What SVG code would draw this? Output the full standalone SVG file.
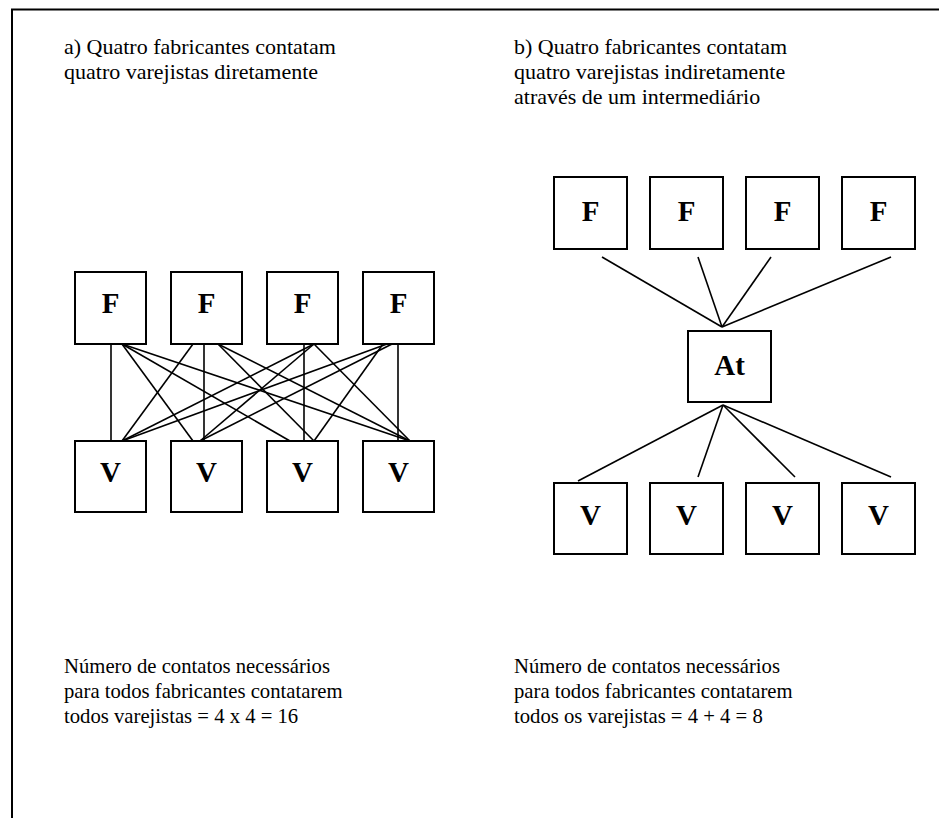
<svg xmlns="http://www.w3.org/2000/svg" width="939" height="818" viewBox="0 0 939 818">
<style>
.bx{fill:#fff;stroke:#000;stroke-width:2}
.lt{font-family:"Liberation Serif","Times New Roman",serif;font-weight:bold;font-size:29px;text-anchor:middle}
.tx{font-family:"Liberation Serif","Times New Roman",serif;font-size:22px}
.nt{font-family:"Liberation Serif","Times New Roman",serif;font-size:20.7px}
.cn line{stroke:#000;stroke-width:1.6}
</style>
<rect width="939" height="818" fill="#fff"/>
<path d="M12 818 V9.5 H939" fill="none" stroke="#000" stroke-width="2"/>
<g id="title-a" class="tx"><text x="64" y="54">a) Quatro fabricantes contatam</text><text x="64" y="79">quatro varejistas diretamente</text></g>
<g id="title-b" class="tx"><text x="514" y="54">b) Quatro fabricantes contatam</text><text x="514" y="79">quatro varejistas indiretamente</text><text x="514" y="104">através de um intermediário</text></g>
<g id="note-a" class="nt"><text x="64" y="673">Número de contatos necessários</text><text x="64" y="698">para todos fabricantes contatarem</text><text x="64" y="723">todos varejistas = 4 x 4 = 16</text></g>
<g id="note-b" class="nt"><text x="514" y="673">Número de contatos necessários</text><text x="514" y="698">para todos fabricantes contatarem</text><text x="514" y="723">todos os varejistas = 4 + 4 = 8</text></g>
<g id="connectors-a" class="cn">
<line x1="111" y1="344" x2="111" y2="441"/>
<line x1="204" y1="344" x2="204" y2="441"/>
<line x1="304" y1="344" x2="304" y2="441"/>
<line x1="398" y1="344" x2="398" y2="441"/>
<line x1="122" y1="344" x2="193" y2="441"/>
<line x1="122" y1="344" x2="290" y2="441"/>
<line x1="122" y1="344" x2="410" y2="441"/>
<line x1="193" y1="344" x2="122" y2="441"/>
<line x1="218" y1="344" x2="314" y2="441"/>
<line x1="218" y1="344" x2="410" y2="441"/>
<line x1="314" y1="344" x2="122" y2="441"/>
<line x1="314" y1="344" x2="200" y2="441"/>
<line x1="314" y1="344" x2="410" y2="441"/>
<line x1="387" y1="344" x2="122" y2="441"/>
<line x1="392" y1="344" x2="200" y2="441"/>
<line x1="383" y1="344" x2="314" y2="441"/>
</g>
<g id="connectors-b" class="cn">
<line x1="602" y1="257" x2="722" y2="327"/>
<line x1="698" y1="257" x2="722" y2="327"/>
<line x1="771" y1="257" x2="722" y2="327"/>
<line x1="891" y1="257" x2="722" y2="327"/>
<line x1="723" y1="405" x2="578" y2="481"/>
<line x1="723" y1="405" x2="698" y2="477"/>
<line x1="723" y1="405" x2="795" y2="477"/>
<line x1="723" y1="405" x2="891" y2="477"/>
</g>
<g id="a-F1"><rect class="bx" x="75" y="272" width="71" height="72"/><text class="lt" x="110.5" y="313">F</text></g>
<g id="a-F2"><rect class="bx" x="171" y="272" width="71" height="72"/><text class="lt" x="206.5" y="313">F</text></g>
<g id="a-F3"><rect class="bx" x="267" y="272" width="71" height="72"/><text class="lt" x="302.5" y="313">F</text></g>
<g id="a-F4"><rect class="bx" x="363" y="272" width="71" height="72"/><text class="lt" x="398.5" y="313">F</text></g>
<g id="a-V1"><rect class="bx" x="75" y="441" width="71" height="71"/><text class="lt" x="110.5" y="482">V</text></g>
<g id="a-V2"><rect class="bx" x="171" y="441" width="71" height="71"/><text class="lt" x="206.5" y="482">V</text></g>
<g id="a-V3"><rect class="bx" x="267" y="441" width="71" height="71"/><text class="lt" x="302.5" y="482">V</text></g>
<g id="a-V4"><rect class="bx" x="363" y="441" width="71" height="71"/><text class="lt" x="398.5" y="482">V</text></g>
<g id="b-F1"><rect class="bx" x="554" y="177" width="73" height="72"/><text class="lt" x="590.5" y="221">F</text></g>
<g id="b-F2"><rect class="bx" x="650" y="177" width="73" height="72"/><text class="lt" x="686.5" y="221">F</text></g>
<g id="b-F3"><rect class="bx" x="746" y="177" width="73" height="72"/><text class="lt" x="782.5" y="221">F</text></g>
<g id="b-F4"><rect class="bx" x="842" y="177" width="73" height="72"/><text class="lt" x="878.5" y="221">F</text></g>
<g id="b-At"><rect class="bx" x="688" y="331" width="83" height="71"/><text class="lt" x="729.5" y="375">At</text></g>
<g id="b-V1"><rect class="bx" x="554" y="483" width="73" height="71"/><text class="lt" x="590.5" y="525">V</text></g>
<g id="b-V2"><rect class="bx" x="650" y="483" width="73" height="71"/><text class="lt" x="686.5" y="525">V</text></g>
<g id="b-V3"><rect class="bx" x="746" y="483" width="73" height="71"/><text class="lt" x="782.5" y="525">V</text></g>
<g id="b-V4"><rect class="bx" x="842" y="483" width="73" height="71"/><text class="lt" x="878.5" y="525">V</text></g>
</svg>
